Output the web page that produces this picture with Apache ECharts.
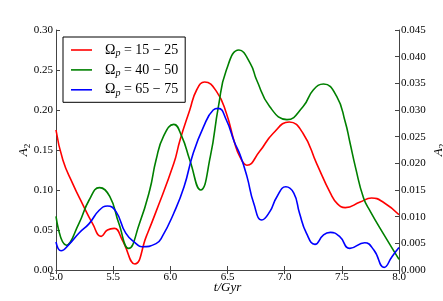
<!DOCTYPE html>
<html><head><meta charset="utf-8">
<script src="https://cdn.jsdelivr.net/npm/echarts@6/dist/echarts.min.js"></script>
<style>html,body{margin:0;padding:0;background:#fff}#c{width:443px;height:301px}</style>
</head><body><div id="c"></div>
<script>
const seriesNames = ['15 \u2212 25', '40 \u2212 50', '65 \u2212 75'];
const xTicks = [5.0, 5.5, 6.0, 6.5, 7.0, 7.5, 8.0];

const redT = [5.00, 5.06, 5.146, 5.23, 5.32, 5.395, 5.45, 5.51, 5.58, 5.69, 5.79, 5.875, 6.03, 6.085, 6.17, 6.23, 6.30, 6.405, 6.49, 6.56, 6.61, 6.67, 6.78, 6.90, 7.04, 7.16, 7.28, 7.40, 7.46, 7.53, 7.66, 7.76, 7.86, 8.00];
const redA = [0.175, 0.1375, 0.108, 0.083, 0.058, 0.042, 0.050, 0.052, 0.0375, 0.0075, 0.042, 0.073, 0.133, 0.1625, 0.200, 0.225, 0.235, 0.223, 0.196, 0.160, 0.141, 0.131, 0.148, 0.171, 0.185, 0.171, 0.133, 0.096, 0.083, 0.078, 0.085, 0.090, 0.085, 0.069];

const greenT = [5.00, 5.09, 5.20, 5.29, 5.38, 5.47, 5.55, 5.635, 5.73, 5.82, 5.875, 5.94, 6.03, 6.10, 6.17, 6.265, 6.35, 6.42, 6.49, 6.60, 6.70, 6.755, 6.87, 7.02, 7.16, 7.25, 7.34, 7.455, 7.53, 7.57, 7.62, 7.69, 7.75, 7.86, 8.00];
const greenA = [0.067, 0.031, 0.058, 0.0875, 0.103, 0.092, 0.058, 0.027, 0.058, 0.100, 0.1375, 0.167, 0.182, 0.167, 0.1375, 0.100, 0.142, 0.204, 0.250, 0.275, 0.258, 0.2375, 0.204, 0.188, 0.204, 0.225, 0.2325, 0.217, 0.185, 0.160, 0.128, 0.090, 0.073, 0.046, 0.0133];

const blueT = [5.00, 5.044, 5.12, 5.20, 5.29, 5.38, 5.45, 5.525, 5.61, 5.70, 5.75, 5.875, 5.93, 6.03, 6.12, 6.20, 6.29, 6.375, 6.42, 6.49, 6.56, 6.61, 6.67, 6.73, 6.80, 6.87, 6.93, 7.01, 7.08, 7.13, 7.19, 7.265, 7.34, 7.40, 7.48, 7.57, 7.70, 7.78, 7.87, 7.94, 8.00];
const blueA = [0.035, 0.024, 0.033, 0.046, 0.058, 0.075, 0.080, 0.073, 0.046, 0.033, 0.029, 0.033, 0.042, 0.071, 0.104, 0.146, 0.179, 0.200, 0.202, 0.1875, 0.160, 0.144, 0.117, 0.083, 0.0625, 0.073, 0.091, 0.104, 0.096, 0.071, 0.046, 0.032, 0.044, 0.047, 0.042, 0.027, 0.034, 0.025, 0.0033, 0.017, 0.028];

const zip = (t, a) => t.map((v, i) => [v, a[i]]);
const font = 'Liberation Serif';
const axisCol = '#444';

const chart = echarts.init(document.getElementById('c'), null, {renderer: 'canvas'});
const nameRich = {
  i: {fontFamily: font, fontStyle: 'italic', fontSize: 13, color: '#000', lineHeight: 16},
  s: {fontFamily: font, fontSize: 9, color: '#000', lineHeight: 8, verticalAlign: 'bottom'}
};
function mk(name, t, a, color) {
  return {name: name, type: 'line', data: zip(t, a), smooth: 0.5, symbol: 'none',
    lineStyle: {color: color, width: 1.6}, itemStyle: {color: color}, xAxisIndex: 0, yAxisIndex: 0};
}
chart.setOption({
  animation: false,
  backgroundColor: '#fff',
  grid: {left: 56, top: 30, right: 44, bottom: 31, containLabel: false, outerBoundsMode: 'none'},
  legend: {
    orient: 'vertical', left: 63, top: 37,
    data: seriesNames,
    icon: 'rect',
    itemWidth: 21, itemHeight: 1.6, itemGap: 4.4,
    padding: [6, 7, 4, 8],
    borderColor: '#000', borderWidth: 1, backgroundColor: '#fff',
    formatter: n => '{o|\u03A9}{s|p}{o| = ' + n + '}',
    textStyle: {
      padding: [0, 0, 0, 8],
      rich: {
        o: {fontFamily: font, fontSize: 14, color: '#000', lineHeight: 17},
        s: {fontFamily: font, fontStyle: 'italic', fontSize: 10, color: '#000', lineHeight: 8, verticalAlign: 'bottom'}
      }
    }
  },
  xAxis: [{
    type: 'value', min: 5.0, max: 8.0, interval: 0.5, position: 'bottom',
    name: '{i|t/Gyr}', nameLocation: 'middle', nameGap: 10, nameMoveOverlap: false,
    nameTextStyle: {rich: nameRich},
    axisLine: {show: true, lineStyle: {color: axisCol, width: 1}},
    axisTick: {show: true, inside: true, length: 4, lineStyle: {color: axisCol}},
    axisLabel: {fontFamily: font, fontSize: 11, color: '#000', margin: 2, formatter: v => v.toFixed(1)},
    splitLine: {show: false}
  }, {
    type: 'value', min: 5.0, max: 8.0, interval: 0.5, position: 'top',
    axisLine: {show: true, lineStyle: {color: axisCol, width: 1}},
    axisTick: {show: true, inside: true, length: 4, lineStyle: {color: axisCol}},
    axisLabel: {show: false}, splitLine: {show: false}
  }],
  yAxis: [{
    type: 'value', min: 0, max: 0.30, interval: 0.05, position: 'left',
    name: '{i|A}{s|2}', nameLocation: 'middle', nameGap: 24, nameRotate: 90, nameMoveOverlap: false,
    nameTextStyle: {rich: nameRich},
    axisLine: {show: true, lineStyle: {color: axisCol, width: 1}},
    axisTick: {show: true, inside: true, length: 4, lineStyle: {color: axisCol}},
    axisLabel: {fontFamily: font, fontSize: 11, color: '#000', margin: 3, formatter: v => v.toFixed(2)},
    splitLine: {show: false}
  }, {
    type: 'value', min: 0, max: 0.045, interval: 0.005, position: 'right',
    name: '{i|A}{s|2}', nameLocation: 'middle', nameGap: 32, nameRotate: 90, nameMoveOverlap: false,
    nameTextStyle: {rich: nameRich},
    axisLine: {show: true, lineStyle: {color: axisCol, width: 1}},
    axisTick: {show: true, inside: true, length: 4, lineStyle: {color: axisCol}},
    axisLabel: {fontFamily: font, fontSize: 11, color: '#000', margin: 2, formatter: v => v.toFixed(3)},
    splitLine: {show: false}
  }],
  series: [
    mk(seriesNames[0], redT, redA, '#ff0000'),
    mk(seriesNames[1], greenT, greenA, '#008000'),
    mk(seriesNames[2], blueT, blueA, '#0000ff')
  ]
});
</script></body></html>
